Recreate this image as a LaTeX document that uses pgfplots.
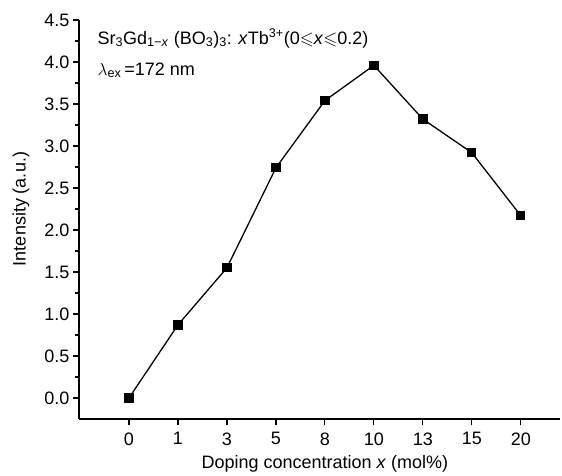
\documentclass[border=0pt]{standalone}
\usepackage{amsmath,amssymb}
\usepackage{fontspec}
\setmainfont{Liberation Sans}
\usepackage{pgfplots}
\pgfplotsset{compat=1.18}
\newcommand{\tickf}{\fontsize{18}{20}\selectfont}
\newcommand{\labf}{\fontsize{18}{20}\selectfont}
\begin{document}
\begin{tikzpicture}[x=1pt,y=1pt]
\begin{axis}[
  at={(0,0)}, anchor=south west,
  scale only axis, width=481pt, height=399pt,
  xmin=-1.02, xmax=8.8, ymin=-0.25, ymax=4.5,
  axis x line*=bottom, axis y line*=left,
  axis line style={line width=1.4pt, -},
  xtick={0,1,2,3,4,5,6,7,8},
  xticklabels={0,1,3,5,8,10,13,15,20},
  ytick={0,0.5,...,4.5},
  minor y tick num=1,
  tick align=outside,
  major tick length=6pt, minor tick length=4pt,
  every tick/.style={line width=1.2pt, black},
  tick label style={font=\tickf},
  label style={font=\labf},
  yticklabel style={/pgf/number format/fixed,/pgf/number format/fixed zerofill,/pgf/number format/precision=1, xshift=0pt},
  xticklabel style={yshift=-4pt},
  /pgf/number format/assume math mode=true,
  xlabel={Doping concentration \textit{x} (mol\%)},
  ylabel={Intensity (a.u.)},
  xlabel style={at={(axis cs:4,-0.25)}, anchor=north, yshift=-33pt},
  ylabel style={at={(axis cs:-1.02,2.25)}, anchor=south, yshift=46pt},
  clip=false,
]
\addplot[black, line width=1.3pt, mark=square*, mark size=4pt] coordinates {
  (0,0.0) (1,0.87) (2,1.55) (3,2.74) (4,3.54) (5,3.96) (6,3.32) (7,2.92) (8,2.17)
};
\node[anchor=west, font=\labf] at (axis cs:-0.71,4.28) {Sr\textsubscript{3}Gd\textsubscript{1\textit{−x}} (BO\textsubscript{3})\textsubscript{3}: \textit{x}Tb\textsuperscript{3+}(0$\leqslant$\textit{x}$\leqslant$0.2)};
\node[anchor=west, font=\labf] at (axis cs:-0.71,3.9) {$\lambda$\textsubscript{ex}\,=172 nm};
\end{axis}
\path[use as bounding box] (-79,-55) rectangle (483,419);
\end{tikzpicture}
\end{document}
